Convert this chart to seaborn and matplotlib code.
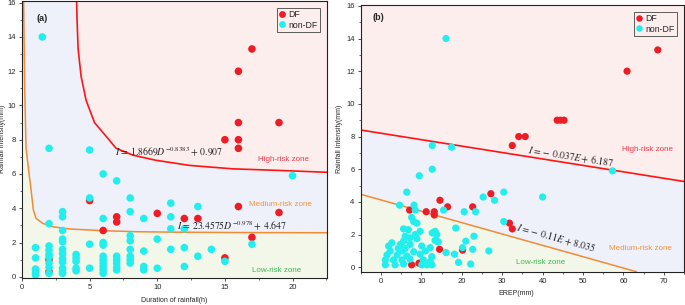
import numpy as np
import pandas as pd
import matplotlib
matplotlib.use("Agg")
import matplotlib.pyplot as plt
import seaborn as sns
from matplotlib.ticker import MultipleLocator

# ---------------- panel (a): duration vs intensity ----------------
a_df_D = [2, 2, 5, 6, 7, 7, 10, 12, 13, 15, 15, 16, 16, 16, 16, 16, 17, 17, 19, 19]
a_df_I = [1.0, 0.3, 4.45, 2.7, 3.5, 3.2, 3.7, 3.4, 3.4, 1.1, 8.0, 4.1, 7.5, 8.0, 9.0, 12.0, 2.3, 13.3, 3.75, 9.0]

a_non_D = ([1] * 5 + [1.5] + [2] * 9 + [3] * 12 + [4] * 5 + [5] * 4 + [6] * 10 + [7] * 6
           + [8] * 8 + [9] * 4 + [10] * 2 + [11] * 4 + [12] * 3 + [13] * 2 + [14, 15, 17, 20])
a_non_I = [1.7, 1.1, 0.45, 0.25, 0.1,
           14.0,
           7.5, 3.1, 1.8, 1.55, 1.3, 1.15, 0.8, 0.55, 0.2,
           3.8, 3.5, 2.7, 2.2, 2.05, 1.6, 1.35, 1.05, 0.85, 0.5, 0.3, 0.2,
           1.3, 1.1, 0.9, 0.5, 0.35,
           7.4, 4.6, 1.9, 0.5,
           6.0, 3.4, 2.0, 1.85, 1.2, 1.0, 0.8, 0.6, 0.4, 0.2,
           5.6, 1.2, 1.0, 0.8, 0.55, 0.4,
           4.6, 3.8, 2.4, 2.1, 1.6, 1.2, 1.0, 0.8,
           3.4, 1.5, 0.6, 0.4,
           2.2, 0.5,
           4.3, 3.5, 2.8, 1.6,
           2.8, 1.7, 0.6,
           4.1, 1.2,
           1.6, 0.9, 1.9, 5.9]

# boundary curves
a_high_D = [4.04, 4.07, 4.15, 4.37, 4.74, 5.36, 6.22, 6.96, 8.2, 9.9, 12.4, 15.6, 19.3, 22.55]
a_high_I = [16.1, 15.0, 13.3, 11.7, 10.3, 9.0, 8.2, 7.5, 7.1, 6.8, 6.5, 6.3, 6.2, 6.1]
a_med_D = [0.12, 0.2, 0.3, 0.49, 0.67, 0.84, 1.04, 1.53, 2.27, 3.5, 5.97, 8.44, 11.65, 16.0, 22.55]
a_med_I = [16.1, 11.0, 7.5, 6.24, 5.07, 3.9, 3.41, 3.12, 2.92, 2.79, 2.69, 2.63, 2.6, 2.58, 2.57]

# ---------------- panel (b): EREP vs intensity ----------------
b_df_E = [68.5, 60.9, 43.6, 44.4, 45.3, 34.1, 35.7, 32.5, 27.2, 14.6, 16.5, 22.7, 7.1, 11.2,
          13.2, 13.2, 31.8, 32.5, 20.2, 14.5, 7.6, 9.4]
b_df_I = [13.3, 12.0, 9.0, 9.0, 9.0, 8.0, 8.0, 7.45, 4.5, 4.1, 3.7, 3.7, 3.5, 3.4,
          3.4, 3.2, 2.7, 2.35, 1.05, 1.1, 0.15, 0.25]

b_non_E = [16.1, 12.7, 17.5, 12.7, 9.5, 57.3, 6.4, 30.4, 25.3, 28.1, 40.0, 4.6, 8.2, 8.5,
           15.5, 20.6, 23.4, 7.6, 8.1, 8.9, 30.4, 5.6, 6.8, 9.7, 12.7, 13.4, 18.5, 13.8,
           8.5, 6.0, 7.2, 8.9, 13.4, 5.6, 14.2, 2.7, 4.8, 7.2, 1.9, 10.1, 4.3, 6.0, 12.2,
           2.3, 5.2, 8.1, 11.0, 16.1, 18.2, 1.5, 4.0, 6.4, 9.7, 12.6, 1.1, 3.1, 5.2, 7.2,
           10.5, 12.2, 1.1, 3.5, 5.6, 10.1, 11.4, 12.6, 23.0, 21.0, 13.8, 20.2, 22.7, 26.7,
           19.2, 22.2]
b_non_I = [14.0, 7.45, 7.35, 6.0, 5.6, 5.9, 4.6, 4.6, 4.3, 4.1, 4.3, 3.8, 3.8, 3.5,
           3.5, 3.4, 3.4, 3.05, 2.8, 2.7, 2.8, 2.35, 2.3, 2.2, 2.1, 2.2, 2.4, 2.0,
           2.0, 1.9, 1.8, 1.75, 1.65, 1.6, 1.55, 1.5, 1.4, 1.4, 1.3, 1.3, 1.15, 1.15, 1.2,
           1.0, 1.0, 0.95, 1.0, 0.9, 0.8, 0.75, 0.75, 0.7, 0.8, 0.65, 0.45, 0.45, 0.45, 0.5,
           0.45, 0.35, 0.15, 0.15, 0.2, 0.15, 0.15, 0.15, 1.9, 1.6, 1.6, 1.2, 1.1, 1.0,
           0.3, 0.2]

b_high_E = [-5, 75]
b_high_I = [8.4, 5.25]
b_med_E = [-5, 63.2]
b_med_I = [4.47, -0.27]

RED = "#ee1c24"
CYAN = "#22eeee"
PINK = "#fdeeee"
LAV = "#eef1fa"
GREEN = "#f2f7ea"
LINE_RED = "#ff1414"
LINE_OR = "#f28a36"


def make_frame(x_df, y_df, x_non, y_non):
    df = pd.DataFrame({"x": x_df, "y": y_df, "type": "DF"})
    non = pd.DataFrame({"x": x_non, "y": y_non, "type": "non-DF"})
    return pd.concat([df, non], ignore_index=True)


def style_axes(ax):
    for s in ax.spines.values():
        s.set_color("#222222")
        s.set_linewidth(0.8)
    ax.tick_params(which="major", direction="out", length=2.5, width=0.6, labelsize=5.5, pad=2,
                   color="#333333")
    ax.tick_params(which="minor", direction="out", length=1.5, width=0.5, color="#333333")
    ax.yaxis.set_major_locator(MultipleLocator(2))
    ax.yaxis.set_minor_locator(MultipleLocator(1))


def add_legend(ax):
    handles, labels = ax.get_legend_handles_labels()
    leg = ax.legend(handles, labels, loc="upper right", fontsize=6.3, frameon=True,
                    fancybox=False, edgecolor="#444444", facecolor="none", framealpha=1,
                    borderpad=0.25, labelspacing=0.15, handletextpad=0.3,
                    handlelength=0.8, borderaxespad=0.8, markerscale=0.9)
    leg.get_frame().set_linewidth(0.6)


sns.set_style("ticks")
plt.rcParams["font.family"] = ["Liberation Sans", "DejaVu Sans"]
plt.rcParams["mathtext.fontset"] = "stix"

fig = plt.figure(figsize=(6.85, 3.05), dpi=100)
ax1 = fig.add_axes([0.0321, 0.0898, 0.4453, 0.9069])
ax2 = fig.add_axes([0.5266, 0.1092, 0.4720, 0.8744])

# ---- panel (a)
ax1.set_xlim(0, 22.55)
ax1.set_ylim(-0.05, 16.1)
ax1.fill(a_high_D + [22.55], a_high_I + [16.1], color=PINK, lw=0, zorder=0)
ax1.fill(a_med_D + a_high_D[::-1], a_med_I + a_high_I[::-1], color=LAV, lw=0, zorder=0)
ax1.fill(a_med_D + [22.55, 0.12], a_med_I + [-0.05, -0.05], color=GREEN, lw=0, zorder=0)
ax1.plot(a_high_D, a_high_I, color=LINE_RED, lw=1.2, zorder=1)
ax1.plot(a_med_D, a_med_I, color=LINE_OR, lw=1.1, zorder=1)

sns.scatterplot(data=make_frame(a_df_D, a_df_I, a_non_D, a_non_I), x="x", y="y",
                hue="type", hue_order=["DF", "non-DF"], palette=[RED, CYAN],
                s=30, linewidth=0, ax=ax1, zorder=3)
add_legend(ax1)

ax1.text(1.05, 15.1, "(a)", fontsize=6.5, fontweight="bold", va="center")
ax1.text(10.85, 7.25, r"$I\,=\,1.8669D^{-0.8383}+\,0.907$", fontsize=7, ha="center",
         va="center", color="#222222", zorder=4)
ax1.text(15.5, 2.95, r"$I\,=\,23.4575D^{-0.978}+\,4.647$", fontsize=7, ha="center",
         va="center", color="#222222", zorder=4)
ax1.text(19.35, 6.86, "High-risk zone", fontsize=5.8, color="#f0394a", ha="center", va="center")
ax1.text(19.1, 4.23, "Medium-risk zone", fontsize=5.8, color="#f5913a", ha="center", va="center")
ax1.text(18.8, 0.39, "Low-risk zone", fontsize=5.8, color="#3cba52", ha="center", va="center")

ax1.set_xlabel("Duration of rainfall(h)", fontsize=5)
ax1.set_ylabel("Rainfall intensity(mm)", fontsize=5)
ax1.xaxis.set_major_locator(MultipleLocator(5))
ax1.xaxis.set_minor_locator(MultipleLocator(2.5))
style_axes(ax1)
ax1.yaxis.set_label_coords(-0.053, 0.5)
ax1.xaxis.set_label_coords(0.5, -0.07)

# ---- panel (b)
ax2.set_xlim(-5, 75)
ax2.set_ylim(-0.27, 16.05)
ax2.fill(b_high_E + [75, -5], b_high_I + [16.05, 16.05], color=PINK, lw=0, zorder=0)
ax2.fill(b_med_E + [75] + b_high_E[::-1], b_med_I + [-0.27] + b_high_I[::-1],
         color=LAV, lw=0, zorder=0)
ax2.fill(b_med_E + [-5], b_med_I + [-0.27], color=GREEN, lw=0, zorder=0)
ax2.plot(b_high_E, b_high_I, color=LINE_RED, lw=1.2, zorder=1)
ax2.plot(b_med_E, b_med_I, color=LINE_OR, lw=1.1, zorder=1)

sns.scatterplot(data=make_frame(b_df_E, b_df_I, b_non_E, b_non_I), x="x", y="y",
                hue="type", hue_order=["DF", "non-DF"], palette=[RED, CYAN],
                s=27, linewidth=0, ax=ax2, zorder=3)
add_legend(ax2)

ax2.text(-2.0, 15.3, "(b)", fontsize=6.5, fontweight="bold", va="center")
ax2.text(46.9, 6.75, r"$I\,=\!-\ 0.037E+\,6.187$", fontsize=7, ha="center", va="center",
         rotation=-9, color="#222222", zorder=4)
ax2.text(43.4, 1.8, r"$I\,=\!-\ 0.11E+\,8.035$", fontsize=7, ha="center", va="center",
         rotation=-15.5, color="#222222", zorder=4)
ax2.text(59.7, 7.2, "High-risk zone", fontsize=5.8, color="#f0394a", ha="left", va="center")
ax2.text(56.5, 1.15, "Medium-risk zone", fontsize=5.8, color="#f5913a", ha="left", va="center")
ax2.text(39.4, 0.3, "Low-risk zone", fontsize=5.8, color="#3cba52", ha="center", va="center")

ax2.set_xlabel("EREP(mm)", fontsize=5)
ax2.set_ylabel("Rainfall intensity(mm)", fontsize=5)
ax2.xaxis.set_major_locator(MultipleLocator(10))
ax2.xaxis.set_minor_locator(MultipleLocator(5))
style_axes(ax2)
ax2.yaxis.set_label_coords(-0.055, 0.5)
ax2.xaxis.set_label_coords(0.48, -0.07)

fig.savefig("out.png", dpi=100)
